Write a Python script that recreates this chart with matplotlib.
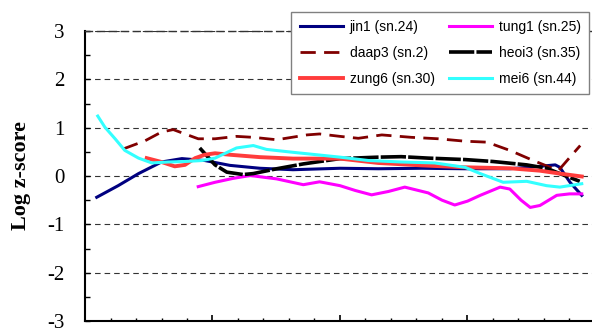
import matplotlib
matplotlib.use("Agg")
import matplotlib.pyplot as plt
from matplotlib.ticker import MultipleLocator, NullFormatter

plt.rcParams["axes.unicode_minus"] = False

# values (x in arbitrary 0-100 units)
jin1_x = [2.3, 6.5, 10.5, 15, 19, 23.5, 28.4, 34.3, 40.8, 50, 57.5, 66, 74.5, 83.3, 89.2, 92.2, 93.1, 95.1, 97.4]
jin1_y = [-0.44, -0.2, 0.05, 0.29, 0.36, 0.32, 0.22, 0.16, 0.13, 0.16, 0.15, 0.16, 0.15, 0.15, 0.2, 0.23, 0.18, -0.13, -0.4]

tung1_x = [22.2, 25.5, 29, 32.4, 37.6, 42.8, 46, 50, 53, 56.2, 59.5, 62.7, 67.3, 70, 72.5, 75, 77.5, 81.4, 83.3, 85.5, 87.3, 89.2, 92.5, 95, 97.4]
tung1_y = [-0.22, -0.13, -0.05, 0.01, -0.06, -0.18, -0.12, -0.2, -0.3, -0.39, -0.32, -0.23, -0.35, -0.5, -0.6, -0.52, -0.4, -0.23, -0.27, -0.5, -0.65, -0.61, -0.4, -0.37, -0.37]

daap3_x = [7.5, 11.8, 15, 17.3, 19.6, 22.2, 25.5, 29.7, 33, 37.6, 43.5, 46, 50, 53.6, 58.2, 64, 69.3, 74.5, 78.8, 83.3, 87.9, 91.2, 92.8, 95.1, 97.1]
daap3_y = [0.56, 0.73, 0.91, 0.96, 0.87, 0.77, 0.77, 0.82, 0.8, 0.75, 0.85, 0.87, 0.82, 0.78, 0.85, 0.8, 0.77, 0.72, 0.7, 0.53, 0.32, 0.18, 0.11, 0.39, 0.63]

heoi3_x = [22.5, 25.5, 27.8, 31, 33, 37.6, 42.8, 50, 57.5, 62, 67.3, 74.5, 80, 86.6, 90.5, 93.1, 97]
heoi3_y = [0.58, 0.23, 0.08, 0.03, 0.05, 0.15, 0.25, 0.36, 0.39, 0.4, 0.37, 0.34, 0.3, 0.23, 0.16, 0.05, -0.11]

zung6_x = [12.1, 15, 17.6, 19.6, 21.6, 23.5, 25.5, 28.4, 34.3, 40.8, 50, 57.5, 66, 74.5, 83.3, 89.2, 93.1, 97.4]
zung6_y = [0.37, 0.29, 0.2, 0.23, 0.37, 0.44, 0.47, 0.44, 0.39, 0.36, 0.36, 0.27, 0.22, 0.18, 0.16, 0.11, 0.05, -0.01]

mei6_x = [2.5, 3.9, 5.9, 7.8, 10.5, 13.1, 16.3, 19.6, 22.9, 25.5, 29.7, 33, 35.6, 40.8, 50, 55.6, 62, 68.6, 74.5, 77.5, 82, 86.6, 90.5, 93.1, 97.4]
mei6_y = [1.24, 1.01, 0.77, 0.53, 0.37, 0.27, 0.29, 0.3, 0.32, 0.37, 0.58, 0.63, 0.55, 0.49, 0.39, 0.32, 0.29, 0.27, 0.18, 0.05, -0.13, -0.11, -0.2, -0.23, -0.16]

fig = plt.figure(figsize=(5.92, 3.29), dpi=100)
ax = fig.add_axes([85 / 592, 8 / 329, 507 / 592, 290 / 329])

ln_jin1, = ax.plot(jin1_x, jin1_y, color="#000080", lw=2.2, label="jin1 (sn.24)")
ln_tung1, = ax.plot(tung1_x, tung1_y, color="#ff00ff", lw=2.2, label="tung1 (sn.25)")
ln_daap3, = ax.plot(daap3_x, daap3_y, color="#800000", lw=2.0, dashes=(5.5, 3), label="daap3 (sn.2)")
ln_heoi3, = ax.plot(heoi3_x, heoi3_y, color="black", lw=2.6, dashes=(7, 0.6), label="heoi3 (sn.35)")
ln_zung6, = ax.plot(zung6_x, zung6_y, color="#ff3c3c", lw=2.8, label="zung6 (sn.30)")
ln_mei6, = ax.plot(mei6_x, mei6_y, color="#33ffff", lw=2.2, label="mei6 (sn.44)")

ax.set_xlim(0, 507 / 5.1)
ax.set_ylim(-3, 3)

ax.yaxis.set_major_locator(MultipleLocator(1))
ax.yaxis.set_minor_locator(MultipleLocator(0.5))
ax.xaxis.set_major_locator(MultipleLocator(25))
ax.xaxis.set_minor_locator(MultipleLocator(5))
ax.xaxis.set_major_formatter(NullFormatter())

ax.tick_params(axis="y", which="both", direction="in", length=3.6, width=1,
               labelsize=15, pad=15, right=False)
ax.tick_params(axis="x", which="major", direction="in", length=4, width=1.2, top=False)
ax.tick_params(axis="x", which="minor", direction="in", length=2.5, width=1, top=False)
for lab in ax.get_yticklabels():
    lab.set_family("Liberation Serif")

ax.yaxis.grid(True, which="major", linestyle=(0, (5, 3.6)), color="#333333", lw=0.8)
ax.set_axisbelow(True)

ax.spines["right"].set_visible(False)
ax.spines["top"].set_linestyle((0, (5, 3.6)))
ax.spines["top"].set_color("#333333")
ax.spines["top"].set_linewidth(1.0)
ax.spines["left"].set_linewidth(1.5)
ax.spines["bottom"].set_linewidth(1.5)

ax.set_ylabel("Log z-score", family="Liberation Serif", fontweight="bold", fontsize=16)
ax.yaxis.set_label_coords(-0.107, 0.5)

handles = [ln_jin1, ln_daap3, ln_zung6, ln_tung1, ln_heoi3, ln_mei6]
leg = ax.legend(handles=handles, ncol=2, loc="upper right",
                bbox_to_anchor=(589 / 592, 1 - 11.7 / 329), bbox_transform=fig.transFigure,
                borderaxespad=0, prop={"family": "Liberation Sans", "size": 10},
                handlelength=3.1, handletextpad=0.5, columnspacing=1.0,
                labelspacing=0.85, borderpad=0.6, fancybox=False, framealpha=1)
leg.get_frame().set_edgecolor("#808080")
leg.get_frame().set_linewidth(1.0)

fig.savefig("out.png", dpi=100)
plt.close(fig)
